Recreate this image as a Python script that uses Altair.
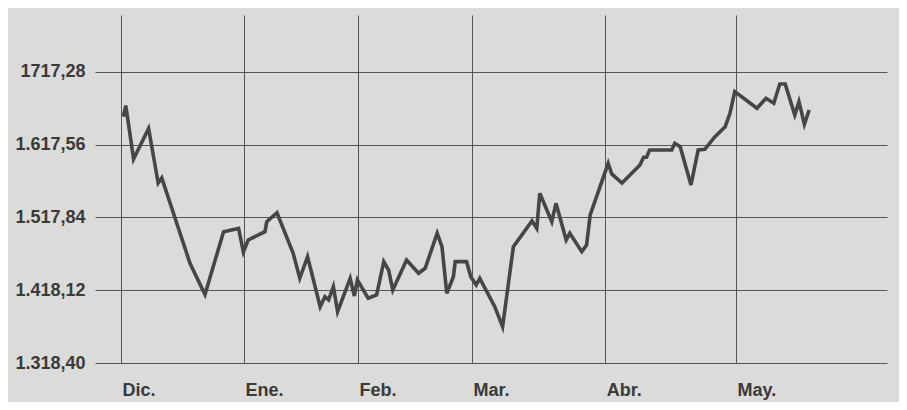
import altair as alt
import pandas as pd

# trading-day index (Dic. = 0) and index value
day = [0.4, 0.8, 2.1, 4.6, 6.2, 6.8, 11.5, 14.0, 17.1, 19.6, 20.4, 21.2, 24.0, 24.3, 26.0,
       28.7, 29.8, 31.1, 33.2, 34.0, 34.6, 35.4, 36.1, 38.2, 38.9, 39.4, 41.2, 42.6, 43.8,
       44.6, 45.3, 47.6, 49.6, 50.7, 52.7, 53.5, 54.3, 55.4, 55.7, 57.6, 58.3, 59.2, 59.8,
       62.3, 63.6, 65.4, 68.5, 69.3, 69.8, 71.8, 72.5, 74.2, 74.8, 76.8, 77.6, 78.2, 81.2,
       81.8, 83.5, 86.5, 87.1, 87.6, 88.1, 91.8, 92.3, 93.2, 95.0, 96.2, 97.3, 99.0, 100.7,
       101.5, 102.3, 106.0, 107.5, 108.8, 109.8, 110.7, 112.3, 113.0, 113.9, 114.7]
value = [1656.0, 1671.3, 1598.0, 1639.8, 1565.1, 1572.0, 1455.1, 1412.3, 1498.4, 1502.8,
         1470.5, 1487.0, 1498.4, 1512.1, 1524.4, 1468.8, 1434.5, 1464.1, 1395.6, 1409.3,
         1404.8, 1423.0, 1388.7, 1434.5, 1410.2, 1432.2, 1407.1, 1411.6, 1457.3, 1445.9,
         1418.5, 1459.6, 1441.4, 1448.2, 1496.2, 1477.8, 1413.9, 1436.7, 1457.3, 1457.3,
         1436.7, 1425.3, 1434.5, 1395.6, 1368.2, 1477.8, 1513.0, 1503.0, 1551.0, 1512.1,
         1537.3, 1487.0, 1496.2, 1471.0, 1480.1, 1521.3, 1592.1, 1577.5, 1565.1, 1589.8,
         1600.4, 1600.4, 1610.4, 1610.4, 1619.5, 1614.9, 1562.4, 1610.4, 1611.3, 1628.6,
         1642.3, 1660.7, 1690.3, 1667.5, 1681.2, 1674.4, 1700.8, 1700.8, 1658.3, 1676.6,
         1645.6, 1665.2]

month_labels = ["Dic.", "Ene.", "Feb.", "Mar.", "Abr.", "May."]
month_ticks = [0, 20.5, 39.5, 58.5, 80.7, 102.5]

y_ticks = [1318.40, 1418.12, 1517.84, 1617.56, 1717.28]
y_labels = ["1.318,40", "1.418,12", "1.517,84", "1.617,56", "1717,28"]

df = pd.DataFrame({"day": day, "value": value})


def chain(ticks, labels):
    expr = f"'{labels[-1]}'"
    for i in range(len(ticks) - 2, -1, -1):
        mid = (ticks[i] + ticks[i + 1]) / 2
        expr = f"(datum.value < {mid} ? '{labels[i]}' : {expr})"
    return expr


FONT = "Liberation Sans, Arial, Helvetica, sans-serif"
INK = "#3a3a3a"

chart = alt.Chart(df).mark_line(
    color="#464646", strokeWidth=3.6, strokeJoin="miter", clip=True
).encode(
    x=alt.X("day:Q",
            scale=alt.Scale(domain=[-4.33, 127.67], nice=False, zero=False),
            axis=alt.Axis(values=month_ticks, labelExpr=chain(month_ticks, month_labels),
                          title=None, grid=True, gridColor="#555555", gridWidth=1,
                          ticks=False, domain=False, labelAlign="left", labelOffset=1,
                          labelBaseline="top", labelPadding=18, labelFont=FONT,
                          labelFontSize=18, labelFontWeight="bold", labelColor=INK)),
    y=alt.Y("value:Q",
            scale=alt.Scale(domain=[1318.40, 1795.4], nice=False, zero=False),
            axis=alt.Axis(values=y_ticks, labelExpr=chain(y_ticks, y_labels),
                          title=None, grid=True, gridColor="#555555", gridWidth=1,
                          ticks=False, domain=False, labelPadding=10, labelFont=FONT,
                          labelFontSize=18, labelFontWeight="bold", labelColor=INK,
                          labelBaseline="middle")),
).properties(
    width=792, height=348,
    autosize=alt.AutoSizeParams(type="none"),
    padding={"left": 87, "top": 7, "right": 12, "bottom": 39},
    background="#dbdbd9",
).configure_view(stroke=None)

chart.save("out.html", embed_options={"renderer": "svg", "actions": False})
